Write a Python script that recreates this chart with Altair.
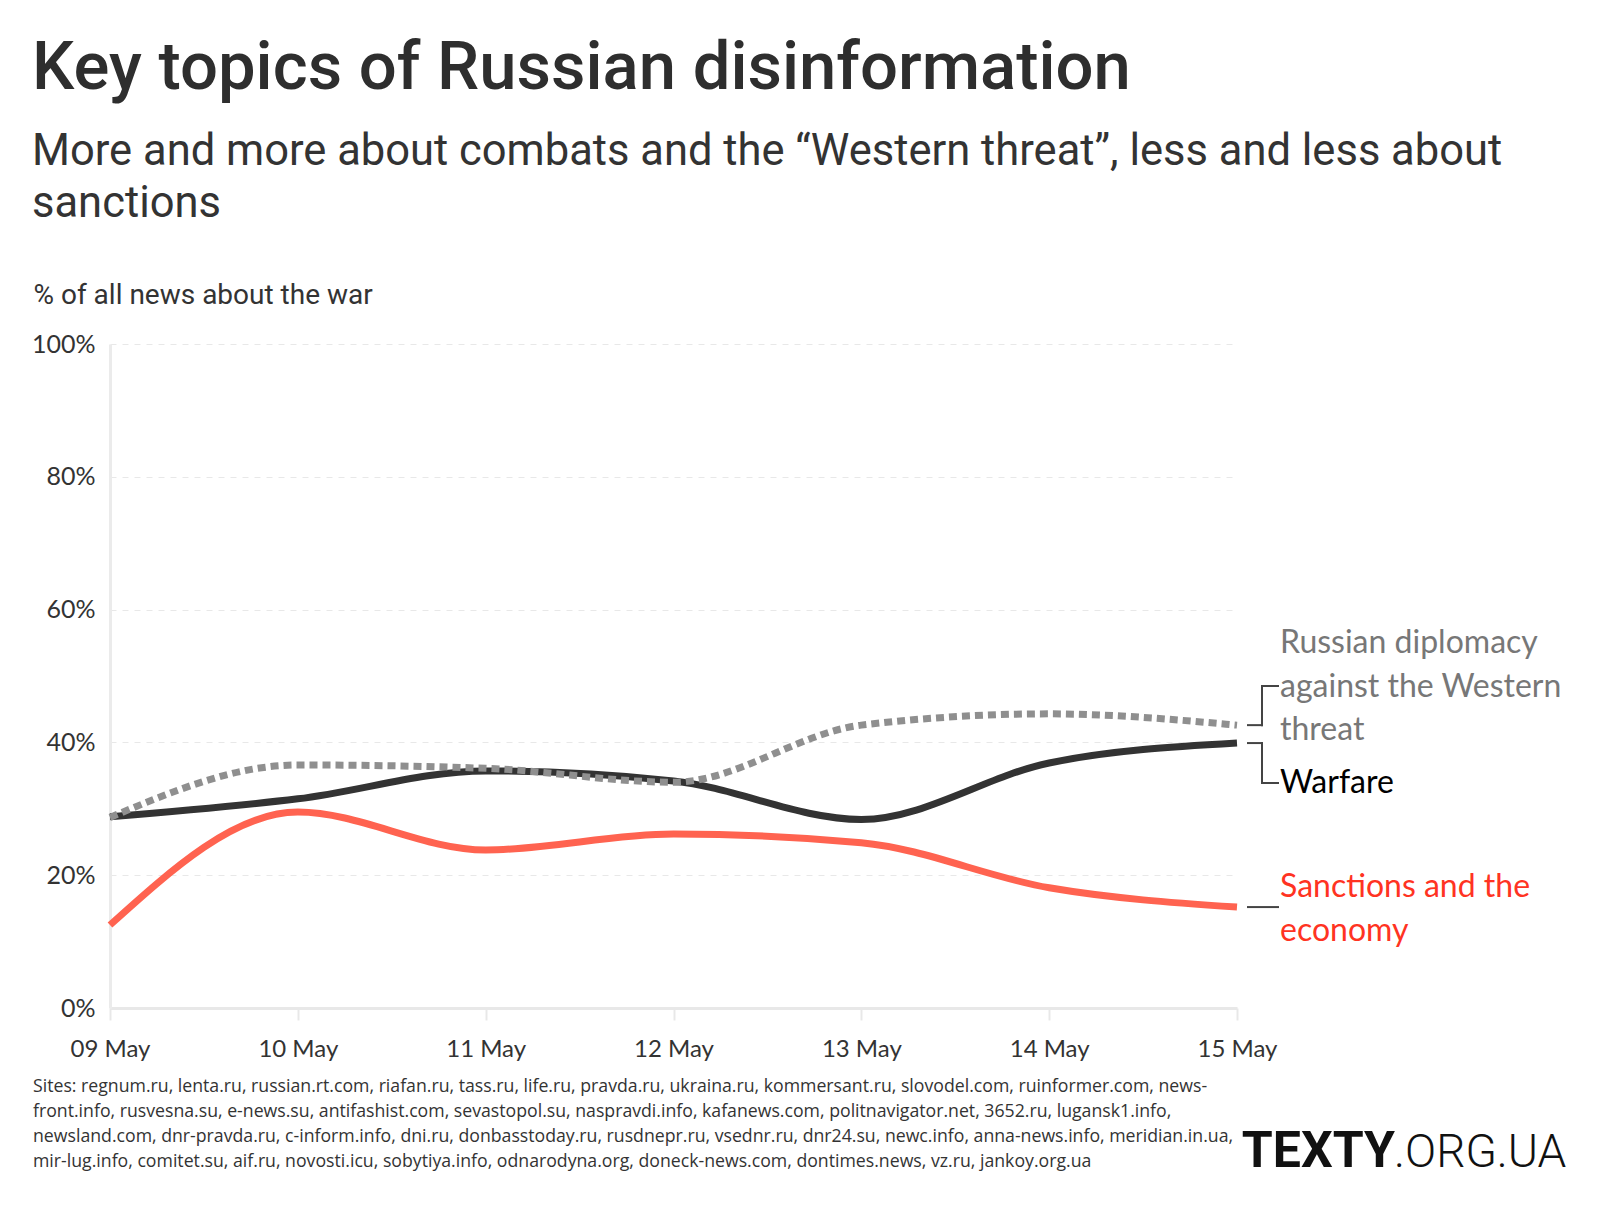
import altair as alt
import pandas as pd

# ---- data ----
dates = ["09 May", "10 May", "11 May", "12 May", "13 May", "14 May", "15 May"]
warfare = [28.8, 31.5, 35.7, 34.2, 28.4, 36.9, 39.9]
diplomacy = [28.7, 36.6, 36.1, 34.0, 42.6, 44.3, 42.6]
sanctions = [12.5, 29.5, 23.8, 26.2, 24.9, 18.1, 15.2]
y_ticks = [0, 20, 40, 60, 80, 100]

title = "Key topics of Russian disinformation"
subtitle = ["More and more about combats and the \u201cWestern threat\u201d, less and less about",
            "sanctions"]
y_title = "% of all news about the war"
label_dip = ["Russian diplomacy", "against the Western", "threat"]
label_war = "Warfare"
label_sanc = ["Sanctions and the", "economy"]
sources = [
    "Sites: regnum.ru, lenta.ru, russian.rt.com, riafan.ru, tass.ru, life.ru, pravda.ru, ukraina.ru, kommersant.ru, slovodel.com, ruinformer.com, news-",
    "front.info, rusvesna.su, e-news.su, antifashist.com, sevastopol.su, naspravdi.info, kafanews.com, politnavigator.net, 3652.ru, lugansk1.info,",
    "newsland.com, dnr-pravda.ru, c-inform.info, dni.ru, donbasstoday.ru, rusdnepr.ru, vsednr.ru, dnr24.su, newc.info, anna-news.info, meridian.in.ua,",
    "mir-lug.info, comitet.su, aif.ru, novosti.icu, sobytiya.info, odnarodyna.org, doneck-news.com, dontimes.news, vz.ru, jankoy.org.ua",
]

rows = []
for name, vals in [("Warfare", warfare), ("Diplomacy", diplomacy), ("Sanctions", sanctions)]:
    for d, v in zip(dates, vals):
        rows.append({"date": d, "series": name, "value": v})
df = pd.DataFrame(rows)

W, H = 1127, 664

x_enc = alt.X("date:O", sort=dates,
              scale=alt.Scale(type="point", padding=0),
              axis=alt.Axis(title=None, labelAngle=0, grid=False,
                            labelFont="Lato", labelFontSize=24, labelColor="#333",
                            domainColor="#e8e8e8", domainWidth=3,
                            tickColor="#e8e8e8", tickWidth=2, tickSize=12,
                            labelPadding=17))
y_enc = alt.Y("value:Q", scale=alt.Scale(domain=[0, 100], nice=False),
              axis=alt.Axis(values=y_ticks, labelExpr="datum.value + '%'",
                            grid=True, gridDash=[6, 6], gridColor="#e8e8e8", gridWidth=1,
                            domainColor="#ebebeb", domainWidth=3, ticks=False,
                            labelPadding=15, labelFont="Lato", labelFontSize=25,
                            labelColor="#333",
                            title=y_title, titleAngle=0, titleX=-77, titleY=-49,
                            titleAlign="left", titleBaseline="middle",
                            titleFont="Roboto", titleFontSize=28,
                            titleFontWeight="normal", titleColor="#333"))

base = alt.Chart(df)

def line(series, color, dash=None):
    kw = dict(interpolate="monotone", color=color, strokeWidth=7)
    if dash:
        kw["strokeDash"] = dash
        kw["strokeCap"] = "butt"
    return base.transform_filter(alt.datum.series == series).mark_line(**kw).encode(
        x=x_enc, y=y_enc)

one = alt.Data(values=[{}])

def txt(s, x, y, size, color, font="Lato", weight="normal", align="left",
        baseline="alphabetic", line_height=None):
    kw = dict(text=s, font=font, fontSize=size, color=color, fontWeight=weight,
              align=align, baseline=baseline)
    if line_height:
        kw["lineHeight"] = line_height
    return alt.Chart(one).mark_text(**kw).encode(x=alt.value(x), y=alt.value(y))

def rule(x1, x2, y1, y2, color="#444", w=2):
    return alt.Chart(one).mark_rule(color=color, strokeWidth=w, strokeCap="square").encode(
        x=alt.value(x1), x2=alt.value(x2), y=y1, y2=y2)

bx0, bx1, bx2 = 1138, 1152, 1168
dip_end = alt.datum(diplomacy[-1])
war_end = alt.datum(warfare[-1])
sanc_end = alt.datum(sanctions[-1])

layers = [
    line("Sanctions", "#ff6350"),
    line("Warfare", "#333333"),
    line("Diplomacy", "#8f8f8f", dash=[8, 5]),
    # brackets
    rule(bx0, bx1, dip_end, dip_end),
    rule(bx1, bx1, dip_end, alt.value(342)),
    rule(bx1, bx2, alt.value(342), alt.value(342)),
    rule(bx0, bx1, war_end, war_end),
    rule(bx1, bx1, war_end, alt.value(439)),
    rule(bx1, bx2, alt.value(439), alt.value(439)),
    rule(bx0, bx2, sanc_end, sanc_end),
    # end labels
    txt(label_dip, 1170, 309, 32, "#777777", line_height=43.5),
    txt(label_war, 1170, 449, 32, "#000000"),
    txt(label_sanc, 1170, 553, 32, "#ff3322", line_height=43.5),
    # title & subtitle
    txt(title, -78, -255, 67, "#2e2e2e", font="Roboto", weight=500),
    txt(subtitle, -78, -179, 43.5, "#333333", font="Roboto", line_height=52),
    # sources
    txt(sources, -77, 748, 17.7, "#333333", font="Open Sans", line_height=25),
    # logo
    txt("TEXTY", 1285, 823, 50, "#111111", font="Roboto", weight="bold", align="right"),
    txt(".ORG.UA", 1284, 823, 46, "#111111", font="Roboto", weight=300, align="left"),
]

chart = alt.layer(*layers).properties(
    width=W, height=H,
    background="white",
    autosize=alt.AutoSizeParams(type="none"),
    padding={"left": 102, "top": 336, "right": 340, "bottom": 180},
).configure_view(strokeWidth=0, stroke="transparent")

chart.save("out.html", embed_options={"renderer": "svg", "actions": False})
